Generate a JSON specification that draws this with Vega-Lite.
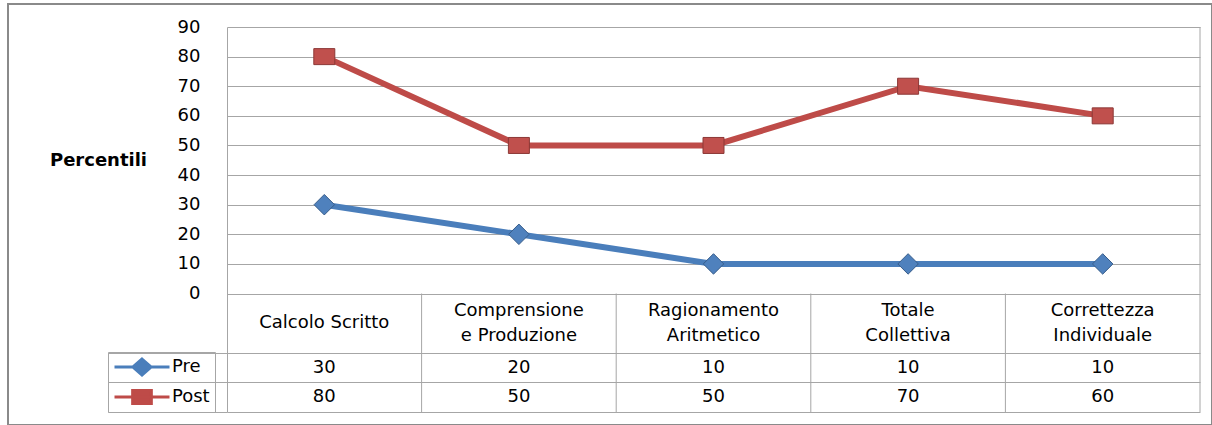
{
  "$schema": "https://vega.github.io/schema/vega-lite/v6.json",
  "width": 1204,
  "height": 421,
  "autosize": "none",
  "padding": {"left": 8, "top": 4, "right": 0, "bottom": 0},
  "background": "white",
  "config": {
    "font": "DejaVu Sans",
    "view": {"stroke": "#8a8a8a", "strokeWidth": 2}
  },
  "data": {
    "values": [
      {"categoria": "Calcolo Scritto", "Pre": 30, "Post": 80},
      {"categoria": "Comprensione\ne Produzione", "Pre": 20, "Post": 50},
      {"categoria": "Ragionamento\nAritmetico", "Pre": 10, "Post": 50},
      {"categoria": "Totale\nCollettiva", "Pre": 10, "Post": 70},
      {"categoria": "Correttezza\nIndividuale", "Pre": 10, "Post": 60}
    ]
  },
  "encoding": {
    "x": {
      "field": "categoria",
      "type": "nominal",
      "sort": null,
      "axis": null,
      "scale": {"type": "band", "range": [219, 1192], "paddingInner": 0, "paddingOuter": 0}
    }
  },
  "layer": [
    {
      "mark": {"type": "rule", "color": "#a6a6a6", "strokeWidth": 1},
      "encoding": {
        "x": {"field": "categoria", "type": "nominal", "sort": null, "bandPosition": 1, "axis": null},
        "y": {
          "datum": -40,
          "type": "quantitative",
          "scale": {"domain": [-40, 90], "range": [408, 23], "nice": false, "zero": false},
          "axis": {
            "values": [-40, -30, -20, 0, 10, 20, 30, 40, 50, 60, 70, 80, 90],
            "tickCount": 40,
            "offset": -219,
            "title": "Percentili",
            "titleAngle": 0,
            "titleX": -129,
            "titleY": 156,
            "titleAlign": "center",
            "titleBaseline": "middle",
            "titleFont": "DejaVu Sans",
            "titleFontSize": 18,
            "titleFontWeight": "bold",
            "titleColor": "#000000",
            "labelExpr": "datum.value >= 0 ? datum.label : ''",
            "labelFont": "DejaVu Sans",
            "labelFontSize": 18,
            "labelColor": "#000000",
            "labelPadding": -92,
            "labelOverlap": false,
            "labelFlush": false,
            "labelBound": false,
            "ticks": true,
            "tickSize": 119,
            "tickColor": {"condition": {"test": "datum.value < 0", "value": "#a6a6a6"}, "value": "transparent"},
            "domain": true,
            "domainColor": "#a6a6a6",
            "grid": true,
            "gridColor": "#a6a6a6"
          }
        },
        "y2": {"datum": 0}
      }
    },
    {
      "transform": [{"filter": "datum.categoria === 'Correttezza\\nIndividuale'"}],
      "mark": {"type": "rule", "color": "#a6a6a6", "strokeWidth": 1},
      "encoding": {
        "x": {"field": "categoria", "type": "nominal", "sort": null, "bandPosition": 1, "axis": null},
        "y": {"datum": 0, "type": "quantitative", "scale": {"domain": [-40, 90], "range": [408, 23], "nice": false, "zero": false}},
        "y2": {"datum": 90}
      }
    },
    {
      "transform": [{"fold": ["Pre", "Post"], "as": ["serie", "valore"]}],
      "mark": {"type": "line", "strokeWidth": 6},
      "encoding": {
        "y": {"field": "valore", "type": "quantitative", "scale": {"domain": [-40, 90], "range": [408, 23], "nice": false, "zero": false}},
        "color": {
          "field": "serie",
          "type": "nominal",
          "scale": {"domain": ["Pre", "Post"], "range": ["#4a7ebb", "#be4b48"]},
          "legend": {
            "orient": "none",
            "legendX": 100,
            "legendY": 348,
            "title": null,
            "padding": 5,
            "strokeColor": "#a6a6a6",
            "clipHeight": 20,
            "rowPadding": 10,
            "labelFont": "DejaVu Sans",
            "labelFontSize": 18,
            "labelColor": "#000000",
            "labelOffset": 1,
            "labelExpr": "datum.label + '\u00a0\u00a0'",
            "symbolOffset": 0,
            "symbolSize": 3025,
            "symbolStrokeWidth": 3,
            "encode": {
              "symbols": {
                "update": {
                  "shape": {"signal": "datum.value === 'Pre' ? 'M-1,0H1M0,-0.29L0.33,0L0,0.29L-0.33,0Z' : 'M-1,0H1M-0.34,-0.24H0.34V0.24H-0.34Z'"},
                  "stroke": {"scale": "color", "field": "value"},
                  "fill": {"scale": "color", "field": "value"},
                  "strokeWidth": {"value": 3},
                  "opacity": {"value": 1}
                }
              }
            }
          }
        }
      }
    },
    {
      "transform": [{"fold": ["Pre"], "as": ["serie", "valore"]}],
      "mark": {"type": "point", "filled": true, "size": 420, "shape": "diamond", "fill": "#4f81bd", "stroke": "#385d8a", "strokeWidth": 1, "opacity": 1},
      "encoding": {
        "y": {"field": "valore", "type": "quantitative", "scale": {"domain": [-40, 90], "range": [408, 23], "nice": false, "zero": false}}
      }
    },
    {
      "transform": [{"fold": ["Post"], "as": ["serie", "valore"]}],
      "mark": {"type": "point", "filled": true, "size": 400, "shape": "M-1.05,-0.8H1.05V0.8H-1.05Z", "fill": "#c0504d", "stroke": "#8c3836", "strokeWidth": 1, "opacity": 1},
      "encoding": {
        "y": {"field": "valore", "type": "quantitative", "scale": {"domain": [-40, 90], "range": [408, 23], "nice": false, "zero": false}}
      }
    },
    {
      "transform": [{"filter": "indexof(datum.categoria, '\\n') < 0"}],
      "mark": {"type": "text", "fontSize": 18, "font": "DejaVu Sans", "color": "#000000", "align": "center", "baseline": "middle"},
      "encoding": {
        "y": {"datum": -10, "type": "quantitative", "scale": {"domain": [-40, 90], "range": [408, 23], "nice": false, "zero": false}},
        "text": {"field": "categoria", "type": "nominal"}
      }
    },
    {
      "transform": [{"filter": "indexof(datum.categoria, '\\n') >= 0"}],
      "mark": {"type": "text", "lineBreak": "\n", "fontSize": 18, "font": "DejaVu Sans", "color": "#000000", "align": "center", "baseline": "middle", "lineHeight": 25, "dy": -12},
      "encoding": {
        "y": {"datum": -10, "type": "quantitative", "scale": {"domain": [-40, 90], "range": [408, 23], "nice": false, "zero": false}},
        "text": {"field": "categoria", "type": "nominal"}
      }
    },
    {
      "mark": {"type": "text", "fontSize": 18, "font": "DejaVu Sans", "color": "#000000", "align": "center", "baseline": "middle"},
      "encoding": {
        "y": {"datum": -25, "type": "quantitative", "scale": {"domain": [-40, 90], "range": [408, 23], "nice": false, "zero": false}},
        "text": {"field": "Pre", "type": "quantitative"}
      }
    },
    {
      "mark": {"type": "text", "fontSize": 18, "font": "DejaVu Sans", "color": "#000000", "align": "center", "baseline": "middle"},
      "encoding": {
        "y": {"datum": -35, "type": "quantitative", "scale": {"domain": [-40, 90], "range": [408, 23], "nice": false, "zero": false}},
        "text": {"field": "Post", "type": "quantitative"}
      }
    }
  ]
}
